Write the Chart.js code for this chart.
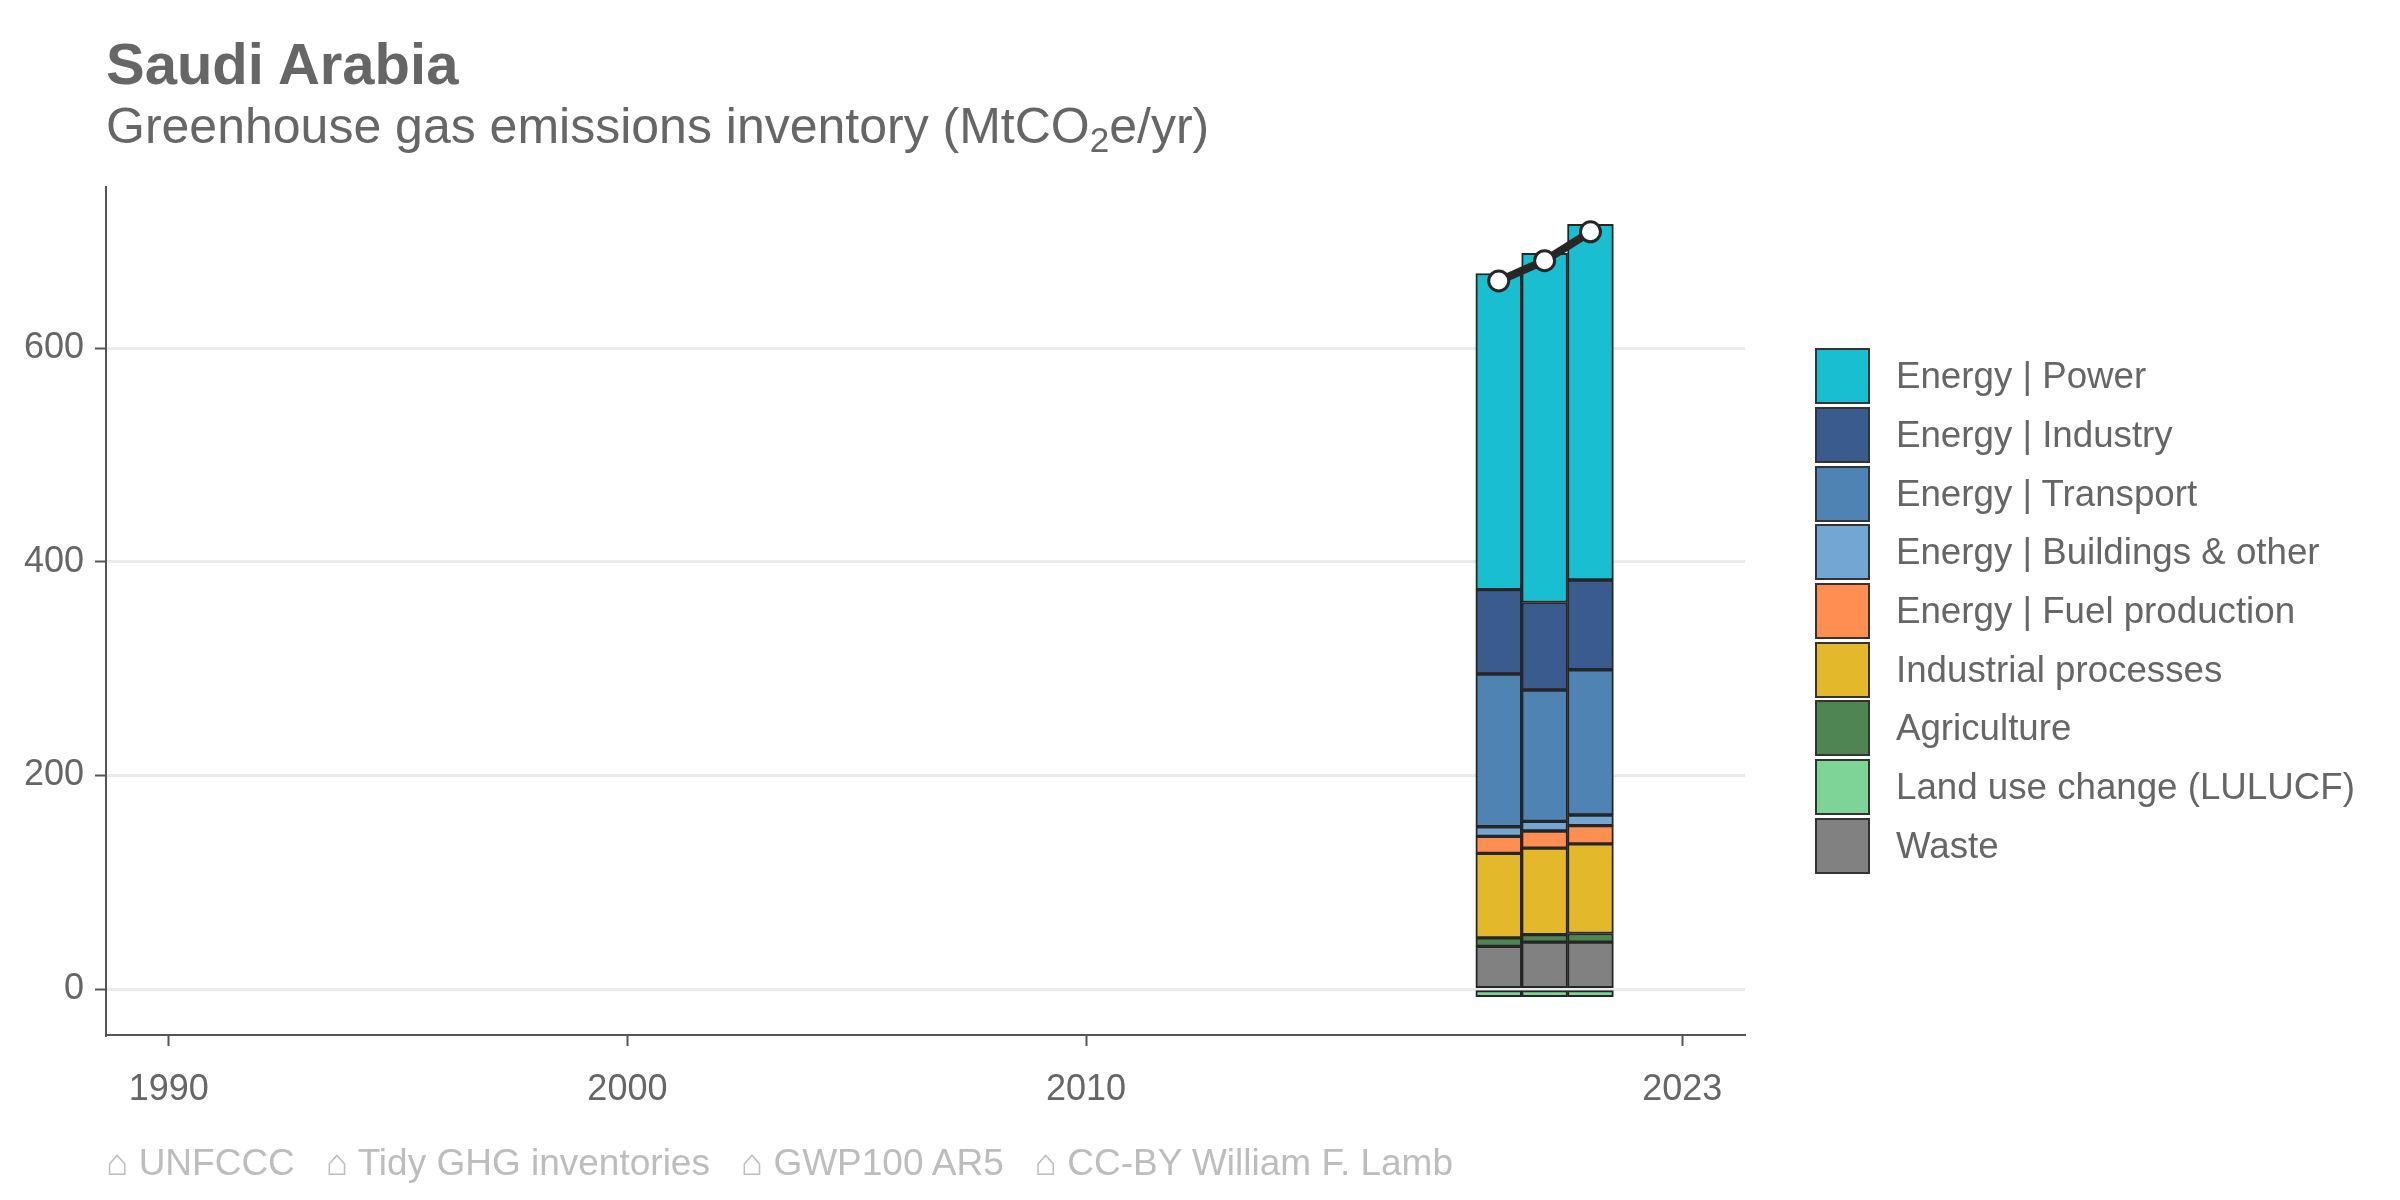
<!DOCTYPE html>
<html>
<head>
<meta charset="utf-8">
<script src="https://cdn.jsdelivr.net/npm/chart.js@4"></script>
<style>
  body { margin: 0; background: #fff; font-family: "Liberation Sans", Arial, sans-serif; }
  #wrap { position: relative; width: 2400px; height: 1200px; }
  #chartBox { position: absolute; left: 0; top: 0; width: 2400px; height: 1200px; }
  .title { position: absolute; left: 106px; top: 35px; font-size: 58px; line-height: 1; font-weight: bold; color: #666; }
  .subtitle { position: absolute; left: 106px; top: 101px; font-size: 50px; line-height: 1; color: #666; }
  .subtitle sub { font-size: 0.7em; vertical-align: -0.25em; line-height: 0; }
  .footer { position: absolute; left: 106px; top: 1144px; font-size: 37px; line-height: 1; color: #bdbdbd; white-space: pre; }
  #legend { position: absolute; left: 1815px; top: 347px; }
  .legend-row { display: flex; align-items: center; height: 58.7px; }
  .legend-box { width: 55px; height: 56px; border: 2px solid #333; box-sizing: border-box; margin-right: 26px; }
  .legend-label { font-size: 36.7px; color: #666; }
</style>
</head>
<body>
<div id="wrap">
  <div id="chartBox"><canvas id="chart"></canvas></div>
  <div class="title">Saudi Arabia</div>
  <div class="subtitle">Greenhouse gas emissions inventory (MtCO<sub>2</sub>e/yr)</div>
  <div id="legend"></div>
  <div class="footer">⌂ UNFCCC   ⌂ Tidy GHG inventories   ⌂ GWP100 AR5   ⌂ CC-BY William F. Lamb</div>
</div>
<script>
const years = [2019, 2020, 2021]

const power = [296, 327, 333]
const industry = [79, 82, 84]
const transport = [143, 123, 136]
const buildings = [9, 9, 10]
const fuelProduction = [16, 16, 17]
const industrialProcesses = [79, 81, 84]
const agriculture = [8, 7, 8]
const lulucf = [-7, -7, -7]
const waste = [40, 44, 44]
const netTotal = [663, 682, 709]

const xTicks = [1990, 2000, 2010, 2023]
const yTicks = [0, 200, 400, 600]

// legend order (top to bottom)
const sectors = [
  { label: "Energy | Power", data: power, color: "#19bfd0" },
  { label: "Energy | Industry", data: industry, color: "#3a5b8e" },
  { label: "Energy | Transport", data: transport, color: "#4e83b4" },
  { label: "Energy | Buildings & other", data: buildings, color: "#74a6d3" },
  { label: "Energy | Fuel production", data: fuelProduction, color: "#ff8e52" },
  { label: "Industrial processes", data: industrialProcesses, color: "#e3b92b" },
  { label: "Agriculture", data: agriculture, color: "#4f8553" },
  { label: "Land use change (LULUCF)", data: lulucf, color: "#7ed496" },
  { label: "Waste", data: waste, color: "#818181" }
]

const legendEl = document.getElementById("legend")
sectors.forEach((s) => {
  const row = document.createElement("div")
  row.className = "legend-row"
  row.innerHTML = `<div class="legend-box" style="background:${s.color}"></div><span class="legend-label">${s.label.replace("&", "&amp;")}</span>`
  legendEl.appendChild(row)
})

// bottom of the stack is drawn first
const barSets = sectors.slice().reverse().map((s) => ({
  type: "bar",
  label: s.label,
  data: years.map((y, i) => ({ x: y, y: s.data[i] })),
  backgroundColor: s.color,
  borderColor: "#262626",
  borderWidth: 2,
  borderSkipped: false,
  barPercentage: 1,
  categoryPercentage: 1,
  order: 1
}))

const lineSet = {
  type: "line",
  label: "Net total",
  data: years.map((y, i) => ({ x: y, y: netTotal[i] })),
  borderColor: "#262626",
  borderWidth: 8,
  pointRadius: 10,
  pointBorderWidth: 3,
  pointBackgroundColor: "#ffffff",
  pointBorderColor: "#262626",
  order: 0
}

const tickFont = { family: "'Liberation Sans', Arial, sans-serif", size: 36 }

new Chart(document.getElementById("chart"), {
  data: { datasets: [...barSets, lineSet] },
  options: {
    responsive: true,
    maintainAspectRatio: false,
    devicePixelRatio: 1,
    animation: false,
    layout: { padding: { left: 0, top: 187, right: 655, bottom: 65 } },
    plugins: { legend: { display: false }, tooltip: { enabled: false } },
    scales: {
      x: {
        type: "linear",
        stacked: true,
        offset: false,
        min: 1988.63,
        max: 2024.37,
        afterBuildTicks: (scale) => { scale.ticks = xTicks.map((v) => ({ value: v })) },
        afterFit: (scale) => { scale.height = 100 },
        ticks: { color: "#666", font: tickFont, padding: 22, maxRotation: 0, autoSkip: false, callback: (v) => String(v) },
        grid: { offset: false, drawOnChartArea: false, drawTicks: true, tickLength: 11, tickColor: "#555", tickWidth: 2 },
        border: { display: true, color: "#555", width: 2 }
      },
      y: {
        stacked: true,
        min: -43,
        max: 751,
        afterBuildTicks: (scale) => { scale.ticks = yTicks.map((v) => ({ value: v })) },
        afterFit: (scale) => { scale.width = 106 },
        ticks: { color: "#666", font: tickFont, padding: 11 },
        grid: { color: "#ebebeb", lineWidth: 3, drawTicks: true, tickLength: 11, tickColor: "#555", tickWidth: 2 },
        border: { display: true, color: "#555", width: 2 }
      }
    }
  }
})
</script>
</body>
</html>
